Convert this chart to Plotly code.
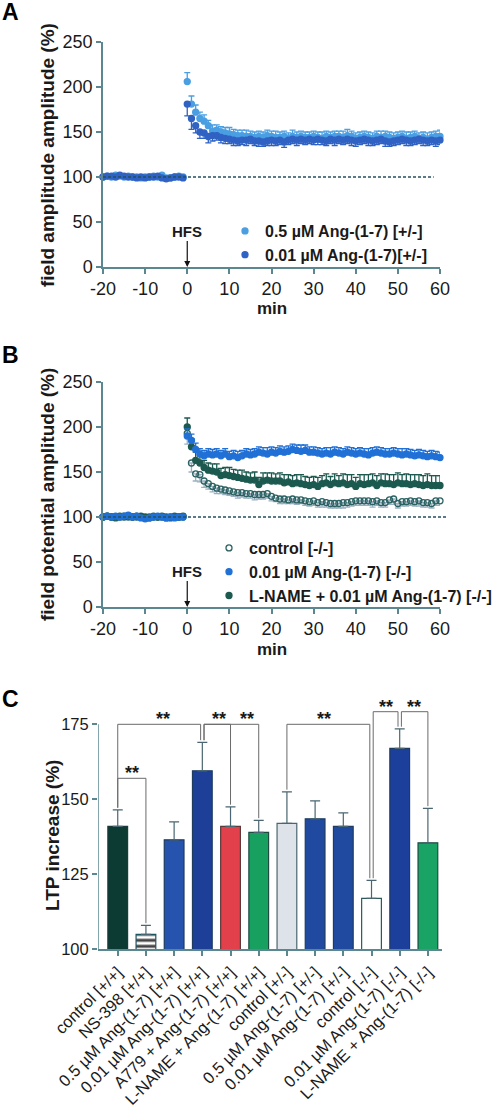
import plotly.graph_objects as go

# ---------------- data ----------------
minutes = list(range(-20, 0)) + list(range(0, 61))

a_05_mean = [100,101,100,102,101,100,101,100,100,99,100,100,101,100,102,99,99,100,101,100,
             206,181,172,165,162,157,151,152,150,149,
             148,147,146,146,145,145,144,145,144,146,
             145,144,144,145,143,145,144,145,144,144,
             145,144,143,145,144,145,145,144,146,145,
             143,144,145,144,143,145,144,145,144,143,
             144,145,143,144,145,143,144,142,144,145,
             145]
a_05_err = [2,1,2,2,1,2,1,2,2,1,2,1,2,2,1,2,1,2,2,1,
            10,9,8,7,7,6,7,6,6,6,
            7,6,6,6,7,6,6,6,6,6,
            6,7,6,6,6,7,6,6,6,6,
            6,6,7,6,6,6,6,7,7,6,
            6,6,6,6,6,6,7,6,6,6,
            6,6,7,6,6,6,6,7,6,6,
            7]
a_001_mean = [100,101,101,100,102,101,100,100,99,100,99,100,100,101,99,98,99,100,100,99,
              181,165,157,150,149,145,146,146,144,143,
              142,141,140,141,141,142,140,140,139,140,
              141,140,141,139,141,142,141,142,141,142,
              141,142,141,140,142,141,142,141,142,141,
              140,141,142,141,140,141,142,140,139,140,
              141,142,141,140,141,142,141,140,141,140,
              141]
a_001_err = [1,2,1,2,2,1,2,1,2,1,2,2,1,2,1,2,2,1,2,1,
             13,12,8,7,6,7,6,5,6,6,
             5,6,5,5,6,5,5,6,5,5,
             6,5,5,6,5,5,6,5,5,5,
             5,6,5,5,5,6,5,5,5,6,
             6,5,5,6,5,5,5,6,5,5,
             5,5,6,5,5,5,6,5,5,6,
             5]

b_ctrl_mean = [100,101,100,99,100,101,100,100,101,100,99,100,101,100,100,99,100,101,100,100,
               193,160,148,147,140,137,134,132,131,130,
               129,128,127,127,126,126,125,125,125,126,
               123,121,120,120,119,120,119,119,118,117,
               118,116,117,116,115,115,115,116,116,117,
               118,118,118,118,117,118,116,116,119,120,
               115,117,117,118,117,118,116,116,115,118,
               118]
b_ctrl_err = [2,1,2,1,2,2,1,2,1,2,1,2,2,1,2,1,2,1,2,2,
              12,10,8,8,7,6,6,6,5,5,
              5,5,6,5,5,5,6,5,5,5,
              5,4,5,5,4,5,5,4,5,5,
              5,5,6,5,5,5,5,6,5,5,
              5,5,5,5,6,5,5,5,5,6,
              5,5,5,5,5,6,5,5,5,5,
              5]
b_ang_mean = [100,101,100,101,100,101,102,100,101,99,98,99,100,101,100,99,100,99,100,100,
              190,185,175,170,168,170,169,170,168,170,
              167,168,166,168,170,169,170,172,171,170,
              172,171,173,172,173,175,174,173,174,172,
              172,171,170,171,170,172,171,170,172,171,
              170,171,170,169,171,172,171,170,170,171,
              170,169,170,169,168,169,168,167,168,167,
              166]
b_ang_err = [2,1,2,2,1,2,2,1,2,1,2,2,1,2,1,2,2,1,2,1,
             8,7,7,6,6,6,6,6,6,6,
             6,6,7,6,6,6,6,6,6,7,
             6,6,6,6,6,6,6,7,6,6,
             6,6,6,6,7,6,6,6,6,6,
             6,6,6,7,6,6,6,6,6,6,
             6,7,6,6,6,6,6,6,6,6,
             6]
b_lname_mean = [100,101,100,100,101,100,101,100,100,101,100,99,100,100,101,100,99,100,100,101,
                200,178,163,160,155,152,151,150,146,147,
                146,145,144,143,142,141,141,136,140,141,
                140,140,140,138,139,137,138,137,136,135,
                136,134,137,138,136,138,137,138,136,137,
                134,137,136,137,138,135,138,137,137,136,
                138,137,137,136,137,136,135,136,135,135,
                135]
b_lname_err = [2,1,2,1,2,2,1,2,1,2,2,1,2,1,2,1,2,2,1,2,
               10,9,9,8,8,8,8,9,8,8,
               9,8,8,9,8,8,9,8,9,8,
               9,8,9,9,8,9,9,10,9,9,
               9,10,9,10,9,10,9,10,11,10,
               10,10,11,10,10,11,10,11,10,11,
               11,10,11,11,10,11,11,12,11,11,
               11]

bar_labels = ["control [+/+]", "NS-398 [+/+]", "0.5 µM Ang-(1-7) [+/+]",
              "0.01 µM Ang-(1-7) [+/+]", "A779 + Ang-(1-7) [+/+]",
              "L-NAME + Ang-(1-7) [+/+]", "control [+/-]", "0.5 µM Ang-(1-7) [+/-]",
              "0.01 µM Ang-(1-7) [+/-]", "control [-/-]", "0.01 µM Ang-(1-7) [-/-]",
              "L-NAME + Ang-(1-7) [-/-]"]
bar_means = [141, 105, 136.5, 159.5, 141, 139, 142, 143.5, 141, 117, 167, 135.5]
bar_sems = [5.5, 3, 6, 9.5, 6.5, 4, 10.5, 6, 4.5, 6, 6.5, 11.5]

# significance brackets: (left bar, right bar, bracket top, label position)
sig_left = [0, 0, 3, 3, 6, 9, 10]
sig_right = [1, 3, 4, 5, 9, 10, 11]
sig_top = [157, 175, 175, 175, 175, 179.2, 179.2]
sig_label_pos = [0.5, 1.6, 3.6, 4.6, 7.3, 9.5, 10.5]
sig_text = "**"

time_ticks = [-20, -10, 0, 10, 20, 30, 40, 50, 60]
pct_ticks = [0, 50, 100, 150, 200, 250]
ltp_ticks = [100, 125, 150, 175]

# ---------------- styles ----------------
W, H = 499, 1108
FONT = "Liberation Sans, Arial, sans-serif"
AX = "#5b8791"
TXT = "#1a1a1a"

def px(x):
    return x / W

def py(y):
    return 1 - y / H

bar_colors = ["#0b3b33", "#ffffff", "#2553ad", "#1e3f98", "#e2414c", "#17a05f",
              "#dde3e8", "#1f4aa0", "#1f4aa0", "#ffffff", "#1c3f9b", "#19a466"]
bar_line = ["#1c3a3a", "#1d5560", "#1e3c60", "#1e3c60", "#5a3a3a", "#1e4a40",
            "#4a6670", "#1e3c60", "#1e3c60", "#2a5a5a", "#1e3c60", "#1e4a40"]
bar_pattern = ["", "-", "", "", "", "", "", "", "", "", "", ""]

fig = go.Figure()

def series(x, y, err, up, color, name, xa, ya, legend, rank, symbol="circle",
           errcolor=None):
    zeros = [0] * len(err)
    fig.add_trace(go.Scatter(
        x=x, y=y, mode="markers", name=name, legend=legend, legendrank=rank,
        xaxis=xa, yaxis=ya, cliponaxis=False,
        marker=dict(symbol=symbol, size=6, color=color,
                    line=dict(color=color, width=1.3)),
        error_y=dict(type="data", symmetric=False,
                     array=err if up else zeros,
                     arrayminus=zeros if up else err,
                     color=errcolor or color, thickness=1.3, width=3),
    ))

# Panel A
series(minutes, a_05_mean, a_05_err, True, "#4a9fe3", "0.5 µM Ang-(1-7) [+/-]",
       "x", "y", "legend", 1)
series(minutes, a_001_mean, a_001_err, False, "#2f62c3", "0.01 µM Ang-(1-7)[+/-]",
       "x", "y", "legend", 2)

# Panel B
series(minutes, b_ctrl_mean, b_ctrl_err, False, "#2b6262", "control [-/-]",
       "x2", "y2", "legend2", 1, symbol="circle-open", errcolor="#9ab0c2")
series(minutes, b_lname_mean, b_lname_err, True, "#1c5a50",
       "L-NAME + 0.01 µM Ang-(1-7) [-/-]", "x2", "y2", "legend2", 3)
series(minutes, b_ang_mean, b_ang_err, True, "#2070d6", "0.01 µM Ang-(1-7) [-/-]",
       "x2", "y2", "legend2", 2)

# Panel C
idx = list(range(len(bar_labels)))
fig.add_trace(go.Bar(
    x=idx, y=bar_means, xaxis="x3", yaxis="y3", width=0.7, showlegend=False,
    marker=dict(color=bar_colors, line=dict(color=bar_line, width=1.2),
                pattern=dict(shape=bar_pattern, fgcolor="#1a4f58", fgopacity=1,
                             size=6, solidity=0.5, fillmode="overlay")),
    error_y=dict(type="data", symmetric=False, array=bar_sems,
                 arrayminus=[0] * len(bar_sems), color="#4a6670",
                 thickness=1.2, width=5),
))

shapes = []
# dashed 100% lines
dash_style = dict(color="#24505e", width=1.3, dash="3px,2px")
shapes.append(dict(type="line", xref="x", yref="y", x0=-20, x1=58.5, y0=100, y1=100,
                   line=dash_style))
shapes.append(dict(type="line", xref="paper", yref="y2", x0=px(103), x1=px(447),
                   y0=100, y1=100, line=dash_style))
# y axis line of panel C (only up to 175)
shapes.append(dict(type="line", xref="x3", yref="y3", x0=-0.7, x1=-0.7, y0=100, y1=175,
                   line=dict(color=AX, width=1.5)))

annotations = []
# brackets
tops = [m + s for m, s in zip(bar_means, bar_sems)]
for l, r, t, lp in zip(sig_left, sig_right, sig_top, sig_label_pos):
    dl = 0.06 if l in (3, 9, 10) else 0
    dr = -0.06 if r in (3, 9, 10) else 0
    xl, xr = l + dl, r + dr
    shapes.append(dict(type="path", xref="x3", yref="y3",
                       path=f"M {xl},{tops[l] + 0.7} L {xl},{t} L {xr},{t} L {xr},{tops[r] + 0.7}",
                       line=dict(color="#6a6a6a", width=1)))
    annotations.append(dict(x=lp, y=t, xref="x3", yref="y3", text=f"<b>{sig_text}</b>",
                            showarrow=False, yanchor="bottom", yshift=-7,
                            font=dict(size=18, color=TXT, family=FONT)))

# panel letters
for letter, yy in (("A", 12), ("B", 355), ("C", 699)):
    annotations.append(dict(x=px(10), y=py(yy), xref="paper", yref="paper",
                            xanchor="center", yanchor="middle",
                            text=f"<b>{letter}</b>", showarrow=False,
                            font=dict(size=23, color="#000", family=FONT)))
# axis titles
for txt, xx, yy in (("field amplitude amplitude (%)", 47, 155),
                    ("field potential amplitude (%)", 47, 495),
                    ("LTP increase (%)", 52, 836)):
    annotations.append(dict(x=px(xx), y=py(yy), xref="paper", yref="paper",
                            xanchor="center", yanchor="middle", textangle=-90,
                            text=f"<b>{txt}</b>", showarrow=False,
                            font=dict(size=19, color=TXT, family=FONT)))
for yy in (309, 649):
    annotations.append(dict(x=px(272), y=py(yy), xref="paper", yref="paper",
                            xanchor="center", yanchor="middle",
                            text="<b>min</b>", showarrow=False,
                            font=dict(size=17, color=TXT, family=FONT)))
# HFS arrows
for xa, ya in (("x", "y"), ("x2", "y2")):
    annotations.append(dict(x=0, y=0, xref=xa, yref=ya, text="<b>HFS</b>",
                            showarrow=True, ax=0, ay=-36, arrowhead=2, arrowsize=1,
                            arrowwidth=1.2, arrowcolor="#111", standoff=0,
                            font=dict(size=15, color=TXT, family=FONT)))

axis_common = dict(showline=True, linecolor=AX, linewidth=1.5, ticks="outside",
                   ticklen=5, tickwidth=1.5, tickcolor=AX, showgrid=False,
                   zeroline=False, tickfont=dict(size=18, color=TXT, family=FONT))

fig.update_layout(
    width=W, height=H, margin=dict(l=0, r=0, t=0, b=0),
    paper_bgcolor="white", plot_bgcolor="white", template="none",
    font=dict(family=FONT, color=TXT),
    xaxis=dict(domain=[px(103), px(440)], range=[-20, 60], anchor="y",
               tickvals=time_ticks, ticktext=[str(v) for v in time_ticks], **axis_common),
    yaxis=dict(domain=[py(267), py(42)], range=[0, 250], anchor="x",
               tickvals=pct_ticks, **axis_common),
    xaxis2=dict(domain=[px(103), px(440)], range=[-20, 60], anchor="y2",
                tickvals=time_ticks, ticktext=[str(v) for v in time_ticks], **axis_common),
    yaxis2=dict(domain=[py(607), py(382)], range=[0, 250], anchor="x2",
                tickvals=pct_ticks, **axis_common),
    xaxis3=dict(domain=[px(98), px(442)], range=[-0.7, 11.5], anchor="y3",
                tickvals=idx, ticktext=bar_labels, tickangle=-45,
                **{**axis_common, "tickfont": dict(size=16.5, color=TXT, family=FONT)}),
    yaxis3=dict(domain=[py(949.3), py(703.3)], range=[100, 182], anchor="x3",
                tickvals=ltp_ticks,
                **{**axis_common, "showline": False,
                   "tickfont": dict(size=16.5, color=TXT, family=FONT)}),
    legend=dict(x=px(225), y=py(214), xanchor="left", yanchor="top",
                bgcolor="rgba(0,0,0,0)", tracegroupgap=0,
                font=dict(size=16, color=TXT, family=FONT, weight="bold")),
    legend2=dict(x=px(209), y=py(531), xanchor="left", yanchor="top",
                 bgcolor="rgba(0,0,0,0)", tracegroupgap=0,
                 font=dict(size=16, color=TXT, family=FONT, weight="bold")),
    shapes=shapes, annotations=annotations, bargap=0.3,
)

fig.write_html("out.html", config={"displayModeBar": False},
               post_script="document.body.style.margin='0';")
